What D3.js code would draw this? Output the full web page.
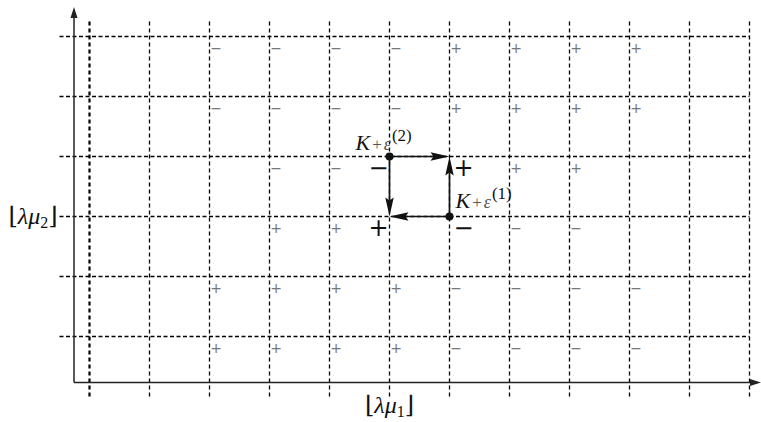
<!DOCTYPE html>
<html>
<head>
<meta charset="utf-8">
<script src="https://cdn.jsdelivr.net/npm/d3@7"></script>
<style>
  html, body { margin: 0; padding: 0; background: #fff; }
  svg { display: block; -webkit-font-smoothing: antialiased; }
  text { font-family: "Liberation Serif", "DejaVu Serif", serif; }
  .sign { font-family: "DejaVu Sans", sans-serif; }
</style>
</head>
<body>
<svg id="chart" width="761" height="422"></svg>
<script>
// Lattice columns and rows (relative to the point K = (⌊λμ1⌋, ⌊λμ2⌋))
const columns = [-5, -4, -3, -2, -1, 0, 1, 2, 3, 4, 5, 6];
const rows = [3, 2, 1, 0, -1, -2];

// Sign of each lattice cell, one array per row, one entry per column ("" = none)
const signsRow3  = ["", "", "−", "−", "−", "−", "+", "+", "+", "+", "", ""];
const signsRow2  = ["", "", "−", "−", "−", "−", "+", "+", "+", "+", "", ""];
const signsRow1  = ["", "", "", "−", "−", "", "", "+", "+", "", "", ""];
const signsRow0  = ["", "", "", "+", "+", "", "", "−", "−", "", "", ""];
const signsRowM1 = ["", "", "+", "+", "+", "+", "−", "−", "−", "−", "", ""];
const signsRowM2 = ["", "", "+", "+", "+", "+", "−", "−", "−", "−", "", ""];
const signRows = [signsRow3, signsRow2, signsRow1, signsRow0, signsRowM1, signsRowM2];

// The two perturbed points
const pointX = [1, 0];
const pointY = [0, 1];
const pointSup = ["(1)", "(2)"];

// Large signs around the two points
const bigSignX = [0, 1, 0, 1];
const bigSignY = [1, 1, 0, 0];
const bigSignText = ["−", "+", "+", "−"];

// Arrows between lattice points: from (x0,y0) to (x1,y1)
const arrowFrom = [[0, 1], [1, 0], [1, 0], [0, 1]];
const arrowTo   = [[1, 1], [1, 1], [0, 0], [0, 0]];

const axisLabelX = "⌊λμ";
const axisSubX = "1";
const axisLabelY = "⌊λμ";
const axisSubY = "2";

const svg = d3.select("#chart");

const x = d3.scaleLinear().domain([-5, 6]).range([89.5, 749.5]);
const y = d3.scaleLinear().domain([-2, 3]).range([336.5, 36.5]);

// Axes origin in lattice units
const originX = x.invert(74);
const originY = y.invert(382.5);

// Dashed grid: vertical lines
svg.append("g").selectAll("line").data(columns).join("line")
  .attr("x1", d => x(d)).attr("x2", d => x(d))
  .attr("y1", y(3.25)).attr("y2", y(-3))
  .attr("stroke", "#000")
  .attr("stroke-width", (d, i) => i === 0 ? 2.2 : 1.3)
  .attr("stroke-dasharray", "4,3");

// Dashed grid: horizontal lines
svg.append("g").selectAll("line").data(rows).join("line")
  .attr("x1", x(-5.5)).attr("x2", x(6))
  .attr("y1", d => y(d)).attr("y2", d => y(d))
  .attr("stroke", "#000")
  .attr("stroke-width", 1.3)
  .attr("stroke-dasharray", "4,2.5");

// Axes with arrowheads
const axisColor = "#222";
svg.append("line")
  .attr("x1", x(originX)).attr("x2", x(originX))
  .attr("y1", y(originY)).attr("y2", 14)
  .attr("stroke", axisColor).attr("stroke-width", 1.5);
svg.append("path")
  .attr("d", `M${x(originX)},7 L${x(originX) - 3.5},18 L${x(originX) + 3.5},18 Z`)
  .attr("fill", axisColor);
svg.append("line")
  .attr("x1", x(originX)).attr("x2", 752)
  .attr("y1", y(originY)).attr("y2", y(originY))
  .attr("stroke", axisColor).attr("stroke-width", 1.5);
svg.append("path")
  .attr("d", `M761,${y(originY)} L750,${y(originY) - 3.5} L750,${y(originY) + 3.5} Z`)
  .attr("fill", axisColor);

// Small signs at lattice cells
const signData = [];
signRows.forEach((r, ri) => r.forEach((s, ci) => {
  if (s) signData.push({ cx: columns[ci], cy: rows[ri], s });
}));
svg.append("g")
  .attr("opacity", 0.99)
  .selectAll("text").data(signData).join("text")
  .attr("class", "sign")
  .attr("x", d => x(d.cx) + 6.5)
  .attr("y", d => y(d.cy) + 11)
  .attr("text-anchor", "middle")
  .attr("dominant-baseline", "central")
  .attr("font-size", 14)
  .attr("fill", "#777")
  .text(d => d.s);

// Arrows
const headLen = 19, headHalf = 4.2;
arrowFrom.forEach((f, i) => {
  const t = arrowTo[i];
  const x0 = x(f[0]), y0 = y(f[1]), x1 = x(t[0]), y1 = y(t[1]);
  const dx = x1 - x0, dy = y1 - y0, len = Math.hypot(dx, dy);
  const ux = dx / len, uy = dy / len;
  const bx = x1 - ux * headLen, by = y1 - uy * headLen;
  svg.append("line")
    .attr("x1", x0).attr("y1", y0).attr("x2", bx + ux * 3).attr("y2", by + uy * 3)
    .attr("stroke", "#111").attr("stroke-width", 1.7);
  svg.append("path")
    .attr("d", `M${x1},${y1} L${bx - uy * headHalf},${by + ux * headHalf} L${bx + ux * 3},${by + uy * 3} L${bx + uy * headHalf},${by - ux * headHalf} Z`)
    .attr("fill", "#111");
});

// Points
svg.append("g").selectAll("circle").data(pointX).join("circle")
  .attr("cx", d => x(d))
  .attr("cy", (d, i) => y(pointY[i]))
  .attr("r", 4)
  .attr("fill", "#111");

// Point labels K + ε^(i)
const labelOffX = [6, -34];
const labelOffY = [-9, -7];
pointX.forEach((px, i) => {
  const t = svg.append("text")
    .attr("x", x(px) + labelOffX[i])
    .attr("y", y(pointY[i]) + labelOffY[i])
    .attr("fill", "#111");
  t.append("tspan").attr("font-style", "italic").attr("font-size", 22).text("K");
  t.append("tspan").attr("font-size", 17).attr("fill", "#555").attr("dx", 2).text("+");
  t.append("tspan").attr("font-style", "italic").attr("font-size", 18).attr("fill", "#555").attr("dx", 2).text("ε");
  t.append("tspan").attr("font-size", 17).attr("dy", -9).attr("dx", 1).text(pointSup[i]);
});

// Large signs around the points
bigSignText.forEach((s, i) => {
  const dxOff = bigSignX[i] === 0 ? -11 : 14;
  svg.append("text")
    .attr("class", "sign")
    .attr("x", x(bigSignX[i]) + dxOff)
    .attr("y", y(bigSignY[i]) + 11)
    .attr("text-anchor", "middle")
    .attr("dominant-baseline", "central")
    .attr("font-size", 24)
    .attr("fill", "#111")
    .text(s);
});

// Axis labels
const ly = svg.append("text")
  .attr("x", 33).attr("y", y(0) + 7)
  .attr("text-anchor", "middle")
  .attr("font-size", 24).attr("fill", "#111");
ly.append("tspan").text(axisLabelY.slice(0, 1));
ly.append("tspan").attr("font-style", "italic").text(axisLabelY.slice(1));
ly.append("tspan").attr("font-size", 16).attr("dy", 4).text(axisSubY);
ly.append("tspan").attr("dy", -4).text("⌋");

const lx = svg.append("text")
  .attr("x", x(0)).attr("y", 413)
  .attr("text-anchor", "middle")
  .attr("font-size", 24).attr("fill", "#111");
lx.append("tspan").text(axisLabelX.slice(0, 1));
lx.append("tspan").attr("font-style", "italic").text(axisLabelX.slice(1));
lx.append("tspan").attr("font-size", 16).attr("dy", 4).text(axisSubX);
lx.append("tspan").attr("dy", -4).text("⌋");
</script>
</body>
</html>
